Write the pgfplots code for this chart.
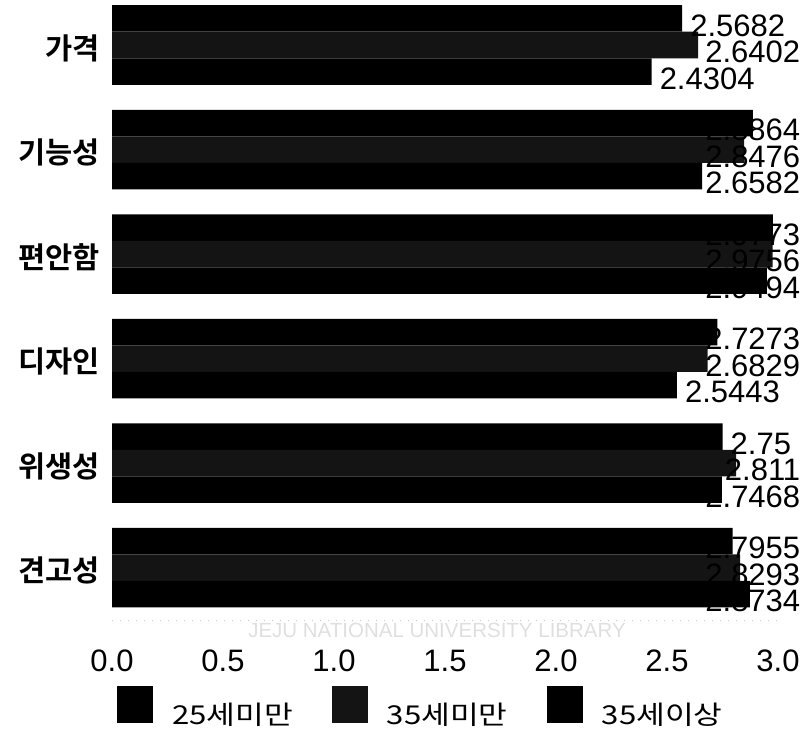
\documentclass[border=0pt]{standalone}
\usepackage{fontspec}
\setmainfont{Liberation Sans}
\newfontfamily\kr{Noto Sans CJK KR}[BoldFont={Noto Sans CJK KR Bold}]
\newfontfamily\krw{Noto Sans CJK KR}[FakeStretch=1.2]
\usepackage{pgfplots}
\usepackage{pgfplotstable}
\pgfplotsset{compat=1.18}

% y: 5 = 가격 (top) ... 0 = 견고성 (bottom)
\pgfplotstableread{
y v
5 2.5682
4 2.8864
3 2.9773
2 2.7273
1 2.75
0 2.7955
}\tA
\pgfplotstableread{
y v
5 2.6402
4 2.8476
3 2.9756
2 2.6829
1 2.811
0 2.8293
}\tB
\pgfplotstableread{
y v
5 2.4304
4 2.6582
3 2.9494
2 2.5443
1 2.7468
0 2.8734
}\tC

\newlength\labw
\newcommand\vlab[1]{\edef\vv{#1}\settowidth\labw{\vv}\pgfmathsetmacro\lsh{min(0,800-112-222*\vv-8-\labw)}\kern\lsh pt\relax\vv}

\begin{document}
\begin{tikzpicture}
\useasboundingbox (0,0) rectangle (810pt,-730pt);
\begin{axis}[
  at={(112pt,-619.75pt)}, anchor=south west,
  x=222pt, y=104.5pt,
  xmin=0, xmax=3, ymin=-0.5, ymax=5.43,
  xbar, bar width=26.5pt,
  axis x line*=bottom, axis y line*=left,
  x axis line style={draw=gray!45, dash pattern=on 1pt off 7pt},
  y axis line style={draw=none},
  major tick length=0pt,
  xtick={0,0.5,1,1.5,2,2.5,3},
  xticklabel={\pgfmathprintnumber[fixed,fixed zerofill,precision=1]{\tick}},
  /pgf/number format/assume math mode=true,
  xticklabel style={font=\fontsize{31}{36}\selectfont, anchor=base, inner sep=0pt, yshift=-52pt},
  ytick={0,1,2,3,4,5},
  yticklabels={견고성,위생성,디자인,편안함,기능성,가격},
  yticklabel style={font=\kr\bfseries\fontsize{29.5}{34}\selectfont, anchor=east, inner sep=0pt, xshift=-12pt, yshift=-3pt},
  clip=false,
  point meta=explicit symbolic,
  nodes near coords={\vlab{\pgfplotspointmeta}},
  every node near coord/.append style={font=\fontsize{31}{36}\selectfont, anchor=west, inner sep=0pt, xshift=8pt, yshift=-7pt, text=black},
  legend columns=3,
  legend cell align=left,
  legend style={draw=none, fill=none, at={(0.0075,-0.1404)}, anchor=west, inner sep=0pt,
    font=\krw\fontsize{26}{32}\selectfont,
    /tikz/every odd column/.append style={column sep=17pt},
    /tikz/every even column/.append style={column sep=37pt}},
  legend image code/.code={\fill[#1] (0pt,-9pt) rectangle (36pt,28pt);},
]
\addplot[fill=black, draw=none, bar shift=26.5pt] table[x=v, y=y, meta=v] {\tA};
\addplot[fill=black!92, draw=none, bar shift=0pt] table[x=v, y=y, meta=v] {\tB};
\addplot[fill=black, draw=none, bar shift=-26.5pt] table[x=v, y=y, meta=v] {\tC};
\legend{25세미만, 35세미만, 35세이상}
\end{axis}
\node[text=gray!25, font=\fontsize{20.5}{24}\selectfont] at (437pt,-630pt) {JEJU NATIONAL UNIVERSITY LIBRARY};
\end{tikzpicture}
\end{document}
